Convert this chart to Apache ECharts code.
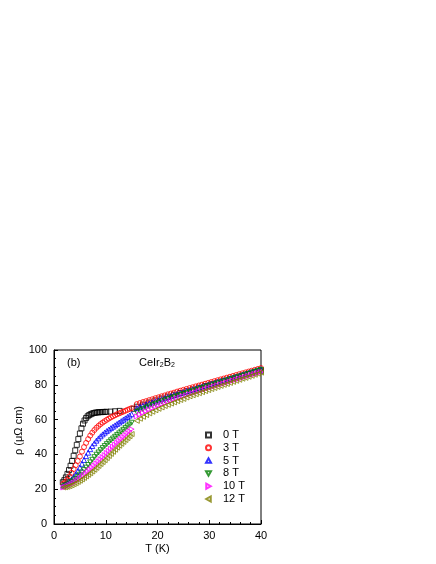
<!DOCTYPE html>
<html>
<head>
<meta charset="utf-8">
<script src="https://cdn.jsdelivr.net/npm/echarts@6/dist/echarts.min.js"></script>
<style>
  html, body { margin: 0; padding: 0; background: #fff; }
  #chart { width: 436px; height: 564px; }
</style>
</head>
<body>
<div id="chart"></div>
<script>
// temperature grids (K)
const tempLow = [1.8, 2.2, 2.6, 3.0, 3.4, 3.8, 4.2, 4.6, 5.0, 5.4, 5.8, 6.2, 6.6, 7.0, 7.4, 7.8, 8.2, 8.6, 9.0, 9.4, 9.8,
  10.2, 10.6, 11.0, 11.4, 11.8, 12.2, 12.6, 13.0, 13.4, 13.8, 14.2, 14.6, 15.0]
const tempHigh = [16.0, 16.6, 17.2, 17.8, 18.4, 19.0, 19.6, 20.2, 20.8, 21.4, 22.0, 22.6, 23.2, 23.8, 24.4, 25.0, 25.6,
  26.2, 26.8, 27.4, 28.0, 28.6, 29.2, 29.8, 30.4, 31.0, 31.6, 32.2, 32.8, 33.4, 34.0, 34.6, 35.2, 35.8, 36.4, 37.0,
  37.6, 38.2, 38.8, 39.4, 40.0]

// 0 T has its own temperatures
const temp0T = [1.7, 2.0, 2.3, 2.6, 2.9, 3.2, 3.5, 3.8, 4.1, 4.4, 4.7, 5.0, 5.3, 5.6, 5.9, 6.2, 6.5, 6.8, 7.1, 7.4, 7.7,
  8.0, 8.3, 8.6, 8.9, 9.2, 9.5, 9.8, 10.1, 10.9, 11.8, 12.7, 15.4,
  16.0, 17.2, 18.4, 19.6, 20.8, 22.0, 23.2, 24.4, 25.6, 26.8, 28.0, 29.2, 30.4, 31.6, 32.8, 34.0, 35.2, 36.4, 37.6, 38.8, 40.0]
const rho0T = [24.0, 25.2, 26.8, 28.8, 31.0, 33.5, 36.2, 39.2, 42.3, 45.5, 48.8, 52.0, 55.0, 57.6, 59.5, 60.9, 61.9, 62.6,
  63.1, 63.5, 63.8, 64.0, 64.1, 64.2, 64.3, 64.3, 64.4, 64.4, 64.5, 64.6, 64.8, 65.0, 66.2,
  67.4, 68.6, 69.8, 71.0, 72.1, 73.2, 74.3, 75.3, 76.3, 77.3, 78.3, 79.3, 80.3, 81.3, 82.3, 83.2, 84.2, 85.2, 86.2, 87.1, 88.1]

// resistivity (uOhm cm), low run then high run
const rho3T = [23.2, 24.2, 25.6, 27.4, 29.4, 31.6, 33.8, 36.2, 38.8, 41.6, 44.2, 46.6, 48.8, 50.8, 52.5, 54.0, 55.3, 56.4,
  57.4, 58.3, 59.1, 59.9, 60.6, 61.3, 61.9, 62.5, 63.1, 63.6, 64.1, 64.6, 65.1, 65.6, 66.1, 66.6,
  68.9, 69.5, 70.1, 70.6, 71.2, 71.7, 72.3, 72.8, 73.4, 73.9, 74.5, 75.0, 75.5, 76.1, 76.6, 77.1, 77.6, 78.1, 78.6,
  79.1, 79.6, 80.1, 80.6, 81.1, 81.6, 82.1, 82.6, 83.1, 83.6, 84.1, 84.6, 85.1, 85.6, 86.1, 86.6, 87.1, 87.6, 88.1,
  88.6, 89.1, 89.6]
const rho5T = [22.0, 22.6, 23.4, 24.4, 25.6, 27.0, 28.6, 30.4, 32.4, 34.6, 36.8, 39.0, 41.0, 43.0, 44.8, 46.4, 47.9, 49.2,
  50.4, 51.5, 52.5, 53.4, 54.3, 55.1, 55.9, 56.7, 57.5, 58.3, 59.1, 59.9, 60.7, 61.5, 62.3, 63.1,
  66.6, 67.3, 68.0, 68.7, 69.3, 69.9, 70.5, 71.1, 71.7, 72.3, 72.9, 73.5, 74.1, 74.6, 75.2, 75.7, 76.3, 76.8, 77.3,
  77.8, 78.4, 78.9, 79.4, 80.0, 80.5, 81.0, 81.6, 82.1, 82.6, 83.1, 83.7, 84.2, 84.7, 85.2, 85.8, 86.3, 86.8, 87.3,
  87.9, 88.4, 88.9]
const rho8T = [21.6, 22.0, 22.6, 23.3, 24.1, 25.0, 26.0, 27.1, 28.3, 29.6, 31.0, 32.4, 33.9, 35.4, 36.9, 38.4, 39.8, 41.1,
  42.4, 43.6, 44.8, 45.9, 47.0, 48.1, 49.1, 50.1, 51.1, 52.1, 53.1, 54.1, 55.1, 56.1, 57.1, 58.2,
  64.3, 65.2, 66.0, 66.8, 67.6, 68.3, 69.0, 69.7, 70.4, 71.1, 71.7, 72.3, 72.9, 73.5, 74.1, 74.7, 75.2, 75.8, 76.3,
  76.9, 77.5, 78.1, 78.6, 79.2, 79.7, 80.3, 80.8, 81.4, 81.9, 82.5, 83.0, 83.6, 84.1, 84.7, 85.2, 85.8, 86.3, 86.9,
  87.4, 88.0, 88.5]
const rho10T = [21.0, 21.3, 21.8, 22.4, 23.0, 23.7, 24.5, 25.3, 26.2, 27.1, 28.1, 29.1, 30.2, 31.3, 32.4, 33.6, 34.8, 36.0,
  37.2, 38.4, 39.6, 40.8, 42.0, 43.2, 44.4, 45.6, 46.7, 47.8, 48.9, 50.0, 51.1, 52.2, 53.3, 54.5,
  61.8, 62.9, 63.9, 64.8, 65.7, 66.5, 67.3, 68.1, 68.8, 69.5, 70.2, 70.8, 71.5, 72.1, 72.7, 73.3, 73.9, 74.5, 75.1,
  75.7, 76.3, 76.9, 77.4, 78.0, 78.5, 79.1, 79.6, 80.2, 80.7, 81.3, 81.8, 82.4, 82.9, 83.5, 84.0, 84.6, 85.1, 85.7,
  86.2, 86.8, 87.3]
const rho12T = [21.0, 21.1, 21.4, 21.8, 22.3, 22.9, 23.5, 24.2, 24.9, 25.7, 26.5, 27.4, 28.3, 29.2, 30.2, 31.2, 32.3, 33.4,
  34.5, 35.6, 36.7, 37.9, 39.1, 40.3, 41.5, 42.7, 43.9, 45.0, 46.1, 47.2, 48.3, 49.4, 50.5, 51.7,
  59.3, 60.5, 61.6, 62.6, 63.6, 64.5, 65.4, 66.2, 67.0, 67.8, 68.5, 69.2, 69.9, 70.6, 71.3, 71.9, 72.7, 73.4, 74.0,
  74.6, 75.2, 75.8, 76.4, 77.0, 77.6, 78.2, 78.8, 79.4, 80.0, 80.5, 81.1, 81.7, 82.3, 82.9, 83.5, 84.0, 84.6, 85.2,
  85.8, 86.4, 87.0]

const fieldNames = ['0 T', '3 T', '5 T', '8 T', '10 T', '12 T']
const xTicks = [0, 10, 20, 30, 40]
const yTicks = [0, 20, 40, 60, 80, 100]

const FONT = 'Arial, "Liberation Sans", sans-serif'
const tempAll = tempLow.concat(tempHigh)

// marker shapes: square, circle, triangles up / down / right / left
const SYM = {
  rect: 'rect',
  circle: 'circle',
  up: 'path://M5,0 L10,9 L0,9 Z',
  down: 'path://M0,0 L10,0 L5,9 Z',
  right: 'path://M0,0 L9,5 L0,10 Z',
  left: 'path://M9,0 L9,10 L0,5 Z'
}

function pairs(xs, ys) {
  return ys.map((y, i) => [xs[i], y])
}

// name, temps, values, symbol, colour
const seriesDefs = [
  [fieldNames[0], temp0T, rho0T, SYM.rect, '#000000'],
  [fieldNames[1], tempAll, rho3T, SYM.circle, '#ff0000'],
  [fieldNames[2], tempAll, rho5T, SYM.up, '#0000ff'],
  [fieldNames[3], tempAll, rho8T, SYM.down, '#008000'],
  [fieldNames[4], tempAll, rho10T, SYM.right, '#ff00ff'],
  [fieldNames[5], tempAll, rho12T, SYM.left, '#808000']
]

let dom = echarts.init(document.getElementById('chart'), null, { renderer: 'canvas' })

let option = {
  backgroundColor: '#ffffff',
  animation: false,
  grid: {
    left: 54,
    right: 175,
    top: 350,
    bottom: 40,
    show: true,
    borderColor: '#000',
    borderWidth: 1,
    backgroundColor: 'transparent'
  },
  legend: {
    orient: 'vertical',
    left: 200,
    top: 424,
    itemWidth: 5,
    itemHeight: 5,
    itemGap: 0.8,
    selectedMode: false,
    textStyle: {
      fontFamily: FONT,
      fontSize: 11,
      color: '#000',
      lineHeight: 12,
      padding: [0, 0, 0, 7]
    },
    data: seriesDefs.map(d => ({ name: d[0], icon: d[3] }))
  },
  graphic: [
    {
      type: 'text',
      left: 67,
      top: 357,
      style: { text: '(b)', font: '11px ' + FONT, fill: '#000' }
    },
    {
      type: 'text',
      left: 139,
      top: 357,
      style: {
        text: 'CeIr{s|2}B{s|2}',
        font: '11px ' + FONT,
        fill: '#000',
        rich: {
          s: { fontSize: 7, fontFamily: FONT, fill: '#000', padding: [6, 0, 0, 0] }
        }
      }
    }
  ],
  xAxis: {
    type: 'value',
    min: xTicks[0],
    max: xTicks[xTicks.length - 1],
    interval: 10,
    name: 'T (K)',
    nameLocation: 'middle',
    nameGap: 19,
    nameTextStyle: { fontFamily: FONT, fontSize: 11, color: '#000' },
    axisLine: { show: true, lineStyle: { color: '#000', width: 1 } },
    axisTick: { show: true, inside: true, length: 4, lineStyle: { color: '#000' } },
    minorTick: { show: true, splitNumber: 5, length: 2, lineStyle: { color: '#000' } },
    axisLabel: { fontFamily: FONT, fontSize: 11, color: '#000', margin: 6 },
    splitLine: { show: false }
  },
  yAxis: {
    type: 'value',
    min: yTicks[0],
    max: yTicks[yTicks.length - 1],
    interval: 20,
    name: 'ρ (μΩ cm)',
    nameLocation: 'middle',
    nameGap: 23,
    nameTextStyle: { fontFamily: FONT, fontSize: 11, color: '#000', padding: [0, 0, 0, 13] },
    axisLine: { show: true, lineStyle: { color: '#000', width: 1 } },
    axisTick: { show: true, inside: true, length: 4, lineStyle: { color: '#000' } },
    minorTick: { show: true, splitNumber: 4, length: 2, lineStyle: { color: '#000' } },
    axisLabel: { fontFamily: FONT, fontSize: 11, color: '#000', margin: 7 },
    splitLine: { show: false }
  },
  series: seriesDefs.map(d => ({
    name: d[0],
    type: 'scatter',
    symbol: d[3],
    symbolSize: 5,
    itemStyle: {
      color: 'rgba(255,255,255,0)',
      borderColor: d[4],
      borderWidth: 1
    },
    emphasis: { disabled: true },
    data: pairs(d[1], d[2])
  }))
}

dom.setOption(option)
window.addEventListener('resize', dom.resize)
</script>
</body>
</html>
